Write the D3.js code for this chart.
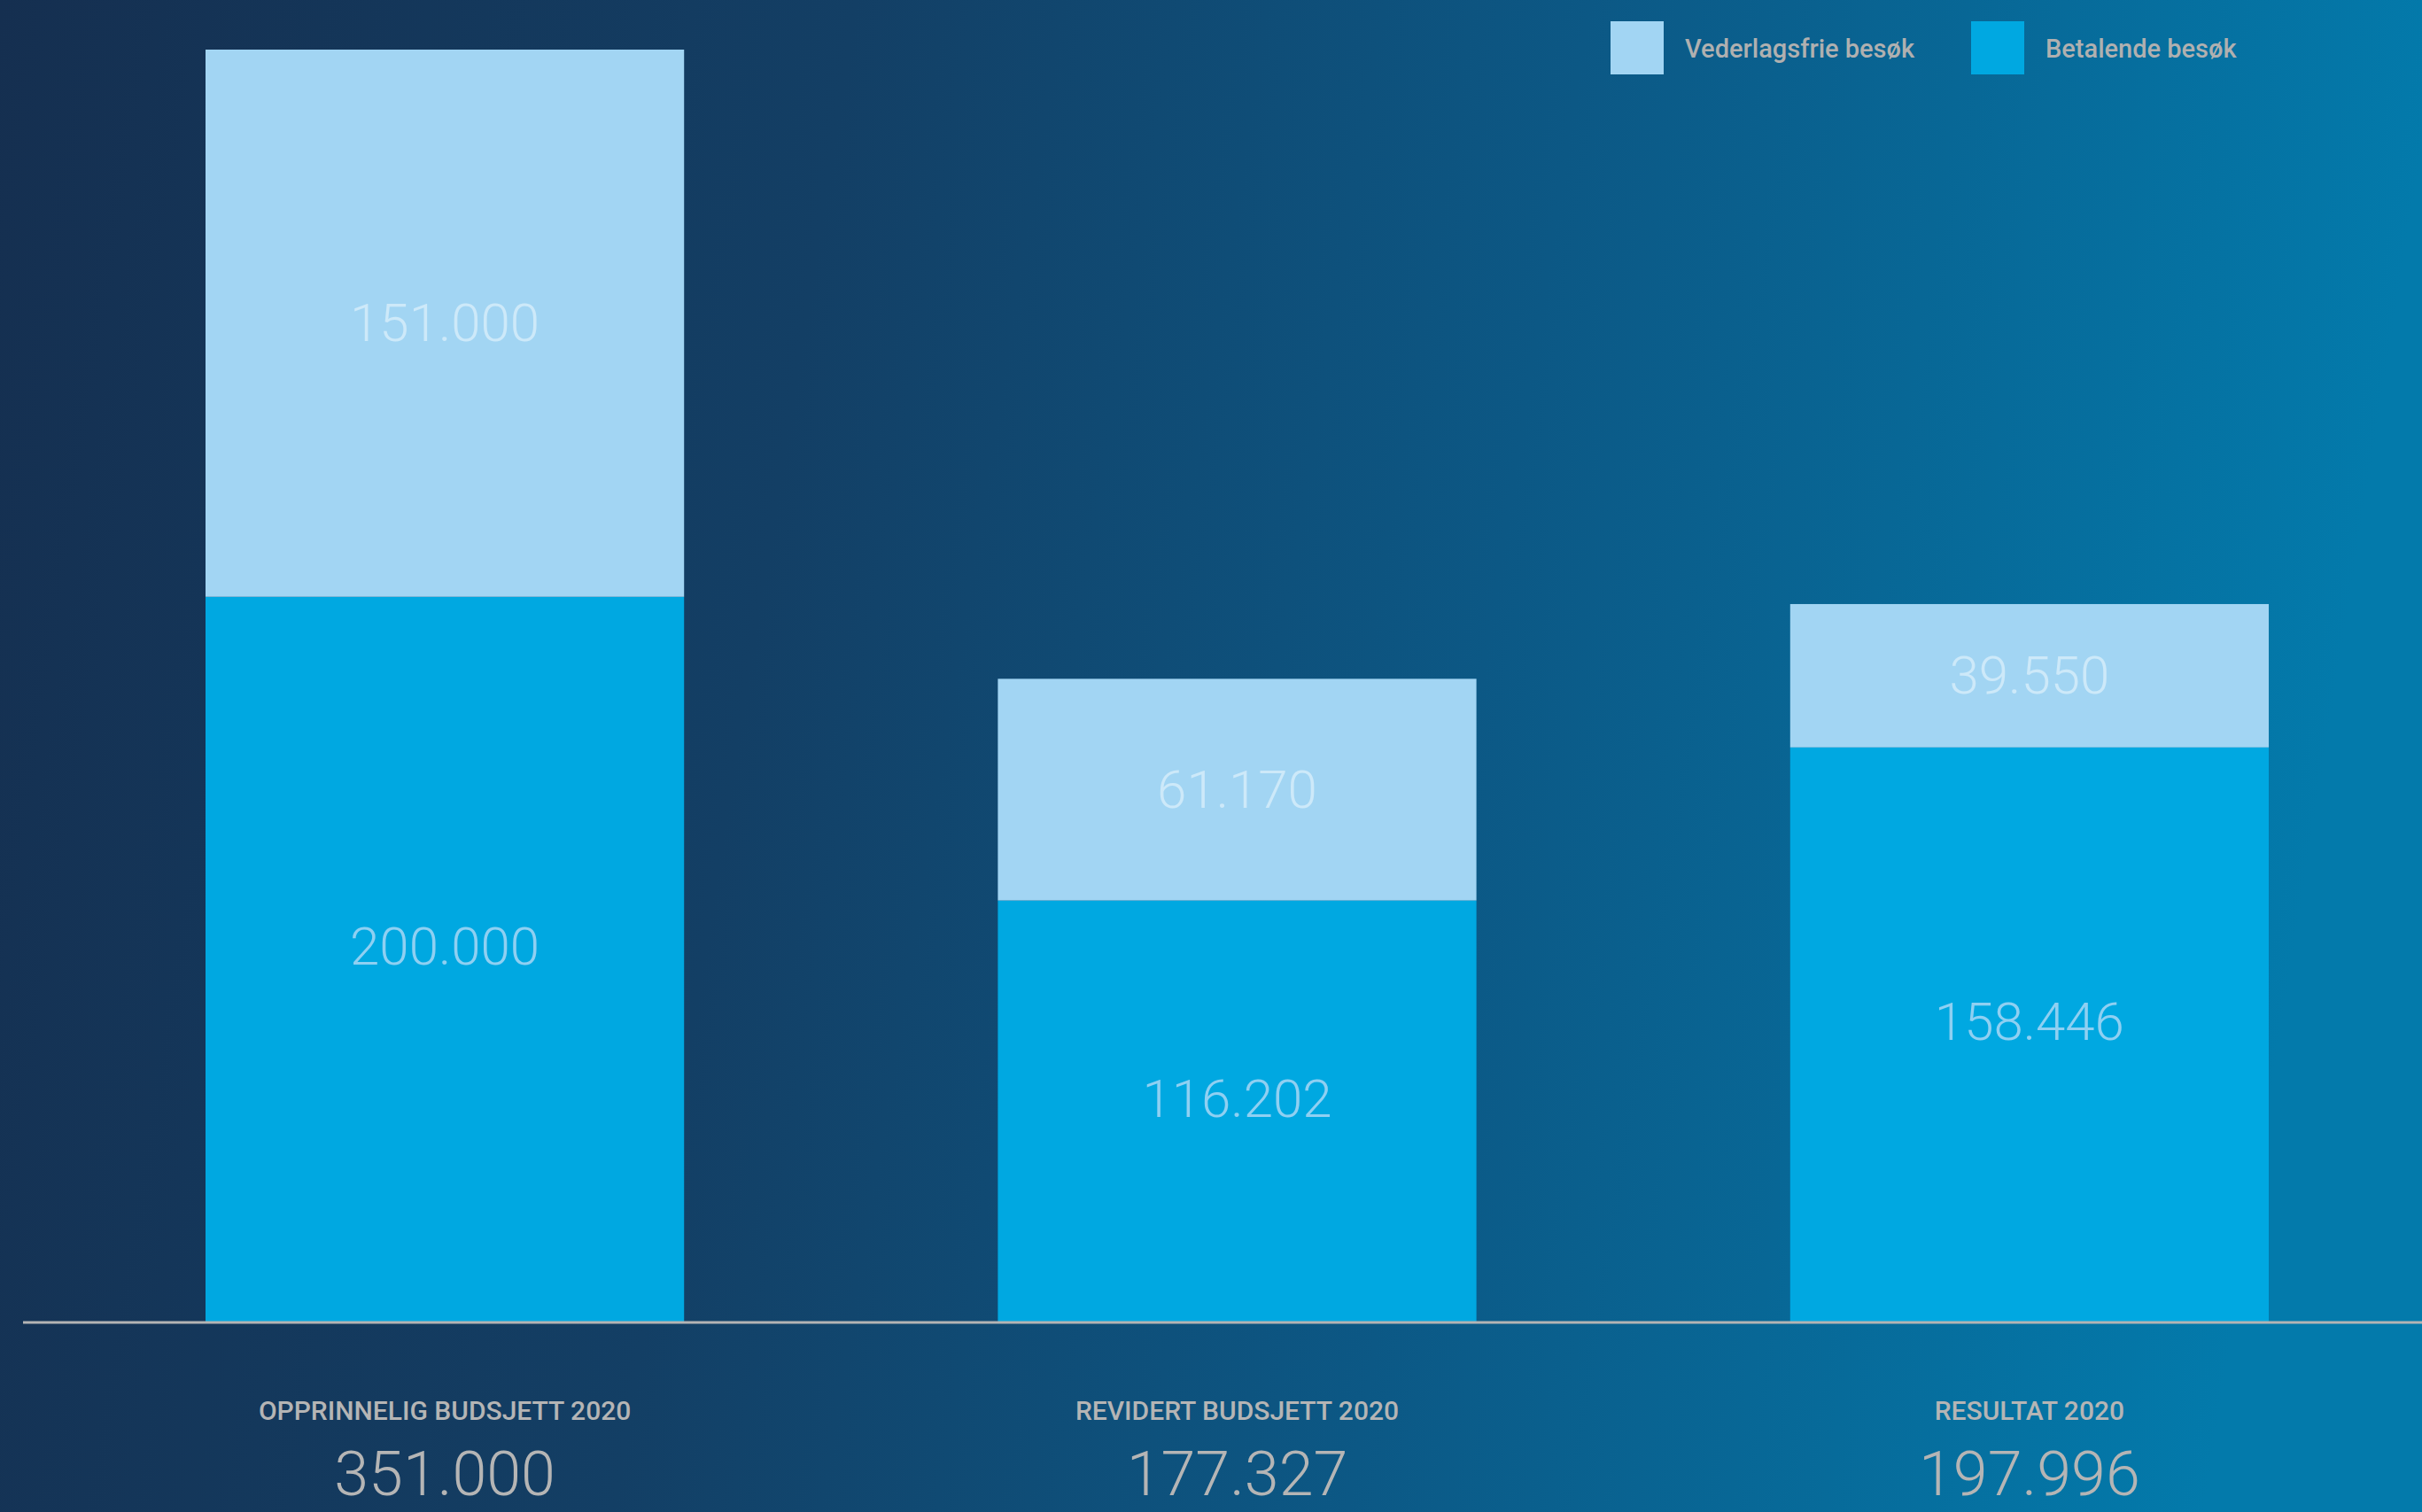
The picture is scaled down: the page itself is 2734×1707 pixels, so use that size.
<!DOCTYPE html>
<html><head><meta charset="utf-8">
<script src="https://cdn.jsdelivr.net/npm/d3@7"></script>
<style>html,body{margin:0;padding:0;overflow:hidden;background:#15304f}</style>
</head><body>
<svg id="chart" width="2734" height="1707"></svg>
<script>
const categories = ["OPPRINNELIG BUDSJETT 2020", "REVIDERT BUDSJETT 2020", "RESULTAT 2020"];
const betalende = [200000, 116202, 158446];
const vederlagsfrie = [151000, 61170, 39550];
const totals = ["351.000", "177.327", "197.996"];
const betalendeLabels = ["200.000", "116.202", "158.446"];
const vederlagsfrieLabels = ["151.000", "61.170", "39.550"];
const legendLabels = ["Vederlagsfrie besøk", "Betalende besøk"];

const W = 2734, H = 1707;
const svg = d3.select("#chart");
const defs = svg.append("defs");
const grad = defs.append("linearGradient").attr("id","bg").attr("x1","0").attr("y1","0").attr("x2","1").attr("y2","0.1");
[["0%","#152f50"],["35%","#133f65"],["65%","#0c5885"],["100%","#037aab"]].forEach(s=>grad.append("stop").attr("offset",s[0]).attr("stop-color",s[1]));
svg.append("rect").attr("width",W).attr("height",H).attr("fill","url(#bg)");

const baseY = 1492, topY = 56;
const x = d3.scaleBand().domain(categories).range([232, 2561]).paddingInner(0.396).paddingOuter(0);
const y = d3.scaleLinear().domain([0, 351000]).range([baseY, topY]);

const colPay = "#00a8e1", colFree = "#a2d5f3";

const rows = categories.map((c,i)=>({c, pay:betalende[i], free:vederlagsfrie[i], i}));
const g = svg.append("g");
g.selectAll("rect.pay").data(rows).join("rect").attr("class","pay")
  .attr("x",d=>x(d.c)).attr("width",x.bandwidth())
  .attr("y",d=>y(d.pay)).attr("height",d=>baseY - y(d.pay)).attr("fill",colPay);
g.selectAll("rect.free").data(rows).join("rect").attr("class","free")
  .attr("x",d=>x(d.c)).attr("width",x.bandwidth())
  .attr("y",d=>y(d.pay+d.free)).attr("height",d=>y(d.pay) - y(d.pay+d.free)).attr("fill",colFree);

const valFont = "'Roboto', 'Liberation Sans', sans-serif";
g.selectAll("text.pay").data(rows).join("text").attr("class","pay")
  .attr("x",d=>x(d.c)+x.bandwidth()/2).attr("y",d=>(y(d.pay)+baseY)/2 - 14)
  .attr("text-anchor","middle").attr("dominant-baseline","central")
  .attr("font-family",valFont).attr("font-weight",300).attr("font-size",60)
  .attr("fill","#8fd0f2").text(d=>betalendeLabels[d.i]);
g.selectAll("text.free").data(rows).join("text").attr("class","free")
  .attr("x",d=>x(d.c)+x.bandwidth()/2).attr("y",d=>(y(d.pay)+y(d.pay+d.free))/2)
  .attr("text-anchor","middle").attr("dominant-baseline","central")
  .attr("font-family",valFont).attr("font-weight",300).attr("font-size",60)
  .attr("fill","#cde9f9").text(d=>vederlagsfrieLabels[d.i]);

// baseline
svg.append("line").attr("x1",26).attr("x2",W).attr("y1",baseY+1).attr("y2",baseY+1)
  .attr("stroke","#b4b4b4").attr("stroke-width",3);

// category labels and totals
g.selectAll("text.cat").data(rows).join("text").attr("class","cat")
  .attr("x",d=>x(d.c)+x.bandwidth()/2).attr("y",1603)
  .attr("text-anchor","middle").attr("font-family","'Roboto', sans-serif").attr("font-weight",500)
  .attr("font-size",30).attr("fill","#b5b5b5").text(d=>d.c);
g.selectAll("text.tot").data(rows).join("text").attr("class","tot")
  .attr("x",d=>x(d.c)+x.bandwidth()/2).attr("y",1688)
  .attr("text-anchor","middle").attr("font-family",valFont).attr("font-weight",300)
  .attr("font-size",70).attr("fill","#b5b5b5").text(d=>totals[d.i]);

// legend
const legCols = [colFree, colPay];
const legX = [1818, 2225];
const leg = svg.append("g");
legendLabels.forEach((t,i)=>{
  leg.append("rect").attr("x",legX[i]).attr("y",24).attr("width",60).attr("height",60).attr("fill",legCols[i]);
  leg.append("text").attr("x",legX[i]+84).attr("y",55).attr("dominant-baseline","central")
    .attr("font-family","'Roboto', sans-serif").attr("font-weight",500).attr("font-size",29)
    .attr("fill","#b0b0b0").text(t);
});
</script>
</body></html>
